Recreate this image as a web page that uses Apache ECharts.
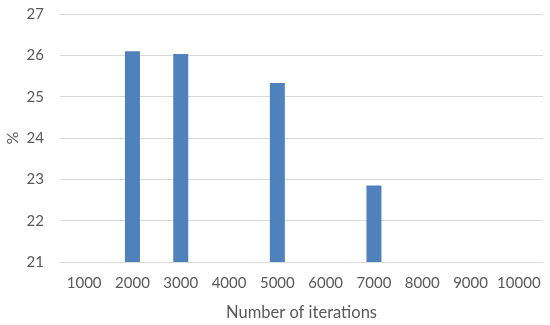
<!DOCTYPE html>
<html>
<head>
<meta charset="utf-8">
<script src="https://cdn.jsdelivr.net/npm/echarts@6/dist/echarts.min.js"></script>
<style>
  html, body { margin: 0; padding: 0; background: #fff; }
  #chart-panel { width: 550px; height: 325px; }
</style>
</head>
<body>
<div id="chart-panel"></div>
<script>
var categories = ['1000', '2000', '3000', '4000', '5000', '6000', '7000', '8000', '9000', '10000'];
var values = [null, 26.1, 26.03, null, 25.33, null, 22.85, null, null, null];
var yTicks = [21, 22, 23, 24, 25, 26, 27];

var myChart = echarts.init(document.querySelector('#chart-panel'));
var textColor = '#595959';
var gridColor = '#d9d9d9';

var option = {
    animation: false,
    textStyle: { fontFamily: 'Lato' },
    grid: { left: 60, right: 7, top: 14, bottom: 63, containLabel: false, outerBoundsMode: 'none' },
    xAxis: {
        type: 'category',
        data: categories,
        name: 'Number of iterations',
        nameLocation: 'middle',
        nameGap: 42,
        nameMoveOverlap: false,
        nameTextStyle: { color: textColor, fontSize: 16.5, fontFamily: 'Lato' },
        axisLine: { show: true, lineStyle: { color: gridColor, width: 1 } },
        axisTick: { show: false },
        axisLabel: { color: textColor, fontSize: 15, margin: 14, interval: 0 }
    },
    yAxis: {
        type: 'value',
        min: yTicks[0],
        max: yTicks[yTicks.length - 1],
        interval: 1,
        name: '%',
        nameLocation: 'middle',
        nameGap: 39,
        nameMoveOverlap: false,
        nameTextStyle: { color: textColor, fontSize: 16, fontFamily: 'Lato' },
        axisLine: { show: false },
        axisTick: { show: false },
        axisLabel: { color: textColor, fontSize: 15, margin: 16 },
        splitLine: { lineStyle: { color: gridColor, width: 1 } }
    },
    series: [{
        type: 'bar',
        data: values,
        barWidth: 15,
        itemStyle: { color: '#4f81bd' }
    }]
};

myChart.setOption(option);
</script>
</body>
</html>
